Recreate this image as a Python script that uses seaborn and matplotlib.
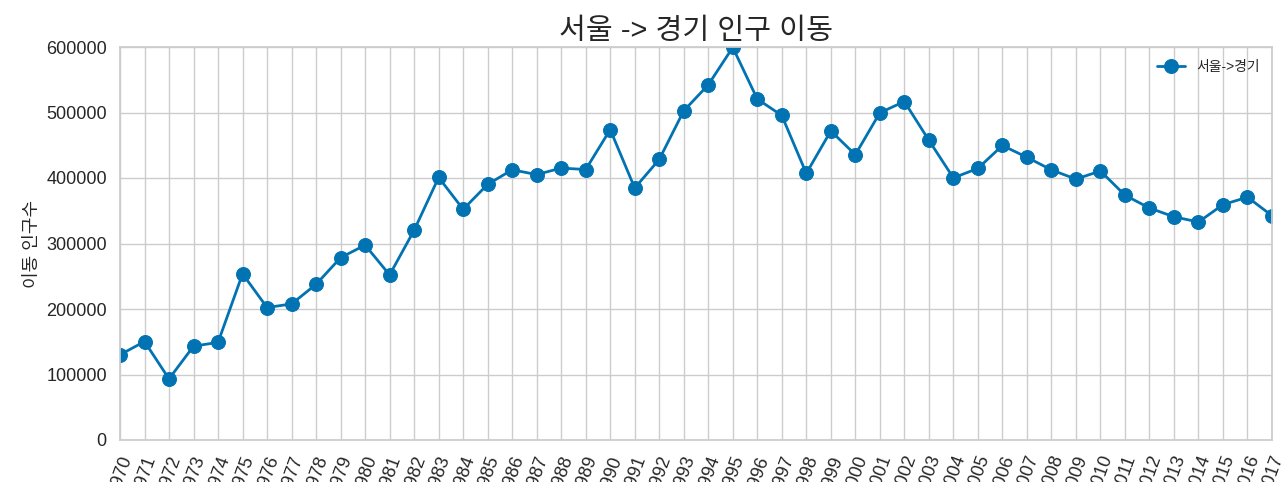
import matplotlib
matplotlib.use('Agg')
import matplotlib.pyplot as plt
import seaborn as sns
import pandas as pd

# Seoul -> Gyeonggi population movement, 1970-2017
years = [str(y) for y in range(1970, 2018)]
moves = [130149, 150313, 93333, 143234, 149045, 253705, 202276, 207722,
         237684, 278411, 297539, 252073, 320174, 400875, 352238, 390265,
         412535, 405220, 415174, 412933, 473889, 384714, 428344, 502584,
         542204, 599411, 520566, 495454, 407050, 471841, 435573, 499575,
         516765, 457656, 400206, 414621, 449632, 431637, 412408, 398282,
         410735, 373771, 354135, 340801, 332785, 359337, 370760, 342433]

title = '서울 -> 경기 인구 이동'
y_label = '이동 인구수'
legend_label = '서울->경기'

sns.set_theme(style='whitegrid')
# Latin glyphs from Liberation Sans, Korean falls back to Noto CJK
plt.rcParams['font.family'] = ['Liberation Sans', 'Noto Sans CJK KR', 'DejaVu Sans']

df = pd.DataFrame({'year': years, 'moves': moves})

fig = plt.figure(figsize=(12.88, 4.82), dpi=100)
ax = fig.add_axes([120 / 1288, 1 - 440 / 482, 1152 / 1288, 393 / 482])

sns.lineplot(data=df, x='year', y='moves', marker='o', markersize=10,
             color='#0173b2', linewidth=2, markeredgecolor='#0173b2',
             label=legend_label, ax=ax)

ax.set_xlim(0, len(years) - 1)
ax.set_ylim(0, 600000)
ax.set_yticks(range(0, 600001, 100000))
ax.set_title(title, fontsize=21, color='.15')
ax.set_xlabel('')
ax.set_ylabel(y_label, fontsize=13)
plt.xticks(rotation=70, fontsize=13)
plt.yticks(fontsize=13)
ax.legend(loc='upper right', fontsize=10, frameon=False)

fig.savefig('out.png', dpi=100)
